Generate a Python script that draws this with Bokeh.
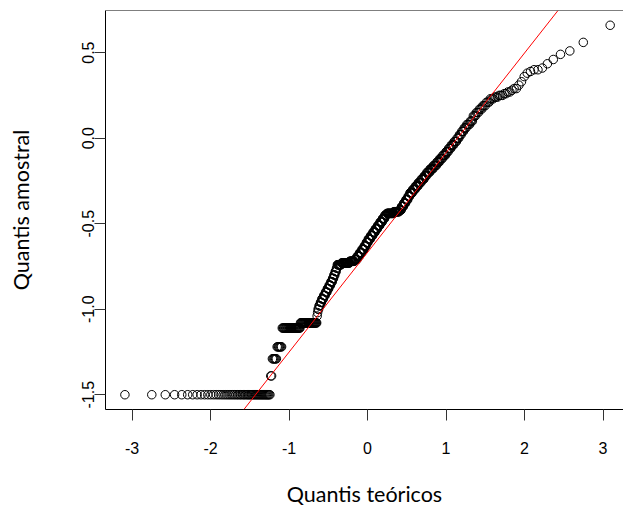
from statistics import NormalDist
import numpy as np
from bokeh.plotting import figure
from bokeh.models import ColumnDataSource, FixedTicker, Slope, Span
from bokeh.embed import file_html
from bokeh.resources import INLINE

# Sample quantiles, as a frequency table (value, count)
sample_value = [
    -1.50, -1.39, -1.29, -1.22, -1.11, -1.08,
    -1.04, -1.02, -1.00, -0.98, -0.96, -0.94, -0.92, -0.90, -0.88, -0.86,
    -0.84, -0.82, -0.80, -0.78, -0.76,
    -0.74, -0.73, -0.72, -0.71,
    -0.69, -0.67, -0.65, -0.63, -0.61, -0.59, -0.57, -0.55, -0.53, -0.51,
    -0.49, -0.47, -0.45,
    -0.44, -0.43,
    -0.44, -0.42, -0.40, -0.38, -0.36, -0.34,
    -0.32, -0.30, -0.28, -0.26, -0.24, -0.22,
    -0.20, -0.18, -0.16, -0.14,
    -0.12, -0.10, -0.08, -0.06, -0.04, -0.02,
    0.00, 0.02, 0.04, 0.06, 0.08, 0.10,
    0.13, 0.15, 0.17, 0.19, 0.21,
    0.23, 0.24, 0.25, 0.26, 0.27, 0.28, 0.29,
    0.31, 0.33, 0.36, 0.38, 0.39, 0.40, 0.41, 0.435, 0.46, 0.49, 0.51, 0.56, 0.66,
]
sample_count = [
    54, 2, 6, 7, 29, 32,
    1, 1, 2, 3, 3, 4, 4, 4, 4, 4,
    4, 3, 3, 3, 2,
    10, 20, 12, 7,
    6, 6, 6, 5, 5, 6, 6, 6, 6, 6,
    6, 6, 5,
    12, 13,
    5, 5, 5, 5, 5, 4,
    6, 6, 6, 6, 6, 5,
    6, 6, 6, 5,
    5, 5, 4, 4, 4, 4,
    3, 3, 3, 3, 4, 3,
    3, 3, 3, 3, 3,
    3, 3, 3, 2, 2, 1, 2,
    1, 1, 1, 1, 1, 2, 1, 1, 1, 1, 1, 1, 1,
]

# reference (qqline)
qq_line_slope = 0.583
qq_line_intercept = -0.668

x_ticks = [-3, -2, -1, 0, 1, 2, 3]
x_tick_labels = ["-3", "-2", "-1", "0", "1", "2", "3"]
y_ticks = [-1.5, -1.0, -0.5, 0.0, 0.5]
y_tick_labels = ["-1.5", "-1.0", "-0.5", "0.0", "0.5"]

x_title = "Quantis teóricos"
y_title = "Quantis amostral"

# qqnorm construction: theoretical normal quantiles for each ranked sample value
sample = np.sort(np.repeat(sample_value, sample_count))
n = len(sample)
nd = NormalDist()
a = 3 / 8 if n <= 10 else 0.5
theoretical = np.array([nd.inv_cdf((i - a) / (n + 1 - 2 * a)) for i in range(1, n + 1)])

# R-style axis limits (4% extension)
xr = theoretical.max() - theoretical.min()
yr = sample.max() - sample.min()
x_start = theoretical.min() - 0.04 * xr
y_start = sample.min() - 0.04 * yr
y_end = sample.max() + 0.04 * yr

W, H = 623, 514
left, top, bottom = 105, 10, 105
frame_w = W - left
px_per_unit = 78.5
x_end = x_start + frame_w / px_per_unit

p = figure(width=W, height=H, x_range=(x_start, x_end), y_range=(y_start, y_end),
           output_backend="svg", toolbar_location=None,
           min_border_left=left, min_border_right=0, min_border_top=top,
           min_border_bottom=bottom)
p.outline_line_color = None
p.xgrid.visible = False
p.ygrid.visible = False
p.background_fill_color = "white"
p.border_fill_color = "white"

src = ColumnDataSource(dict(x=theoretical, y=sample))
p.scatter("x", "y", source=src, marker="circle", size=8.5, fill_color=None,
          line_color="black", line_width=1)

p.add_layout(Slope(gradient=qq_line_slope, y_intercept=qq_line_intercept,
                   line_color="red", line_width=1))
p.add_layout(Span(location=y_end, dimension="width", line_color="black", line_width=1))

tick_font = "Liberation Sans"
for ax in (p.xaxis[0], p.yaxis[0]):
    ax.axis_line_color = "black"
    ax.axis_line_width = 1
    ax.major_tick_line_color = "#333333"
    ax.minor_tick_line_color = None
    ax.major_tick_in = 0
    ax.major_tick_out = 11
    ax.major_label_text_font = tick_font
    ax.major_label_text_font_size = "16px"
    ax.major_label_text_color = "black"
    ax.axis_label_text_font = "Lato"
    ax.axis_label_text_font_size = "21.5px"
    ax.axis_label_text_font_style = "normal"
    ax.axis_label_text_color = "black"

p.xaxis.ticker = FixedTicker(ticks=x_ticks)
p.xaxis.major_label_overrides = {t: s for t, s in zip(x_ticks, x_tick_labels)}
p.xaxis.major_label_standoff = 21
p.xaxis.axis_label = x_title
p.xaxis.axis_label_standoff = 24

p.yaxis.ticker = FixedTicker(ticks=y_ticks)
p.yaxis.major_label_overrides = {t: s for t, s in zip(y_ticks, y_tick_labels)}
p.yaxis.major_label_orientation = "vertical"
p.yaxis.major_label_standoff = 0
p.yaxis.axis_label = y_title
p.yaxis.axis_label_standoff = 46

with open("out.html", "w") as f:
    f.write(file_html(p, INLINE))
